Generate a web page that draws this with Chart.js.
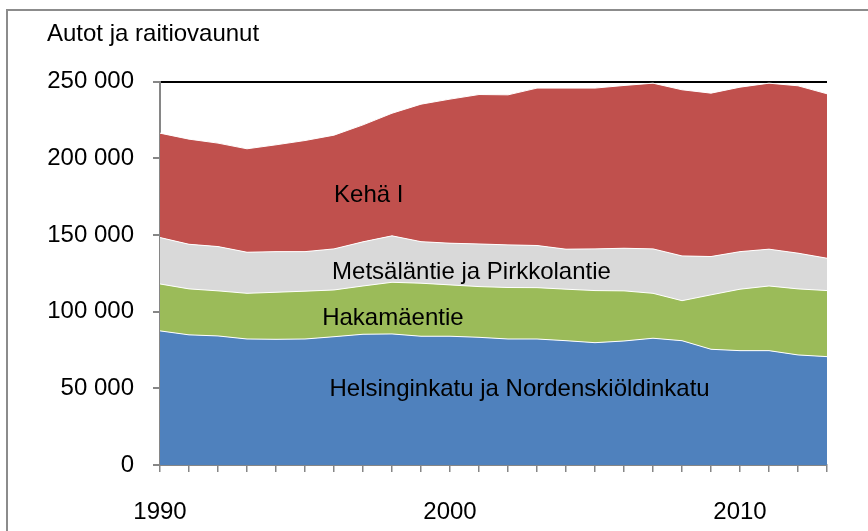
<!DOCTYPE html>
<html>
<head>
<meta charset="utf-8">
<script src="https://cdn.jsdelivr.net/npm/chart.js@4"></script>
<style>
  body { margin: 0; background: #fff; }
  #wrap { width: 868px; height: 531px; }
</style>
</head>
<body>
<div id="wrap"><canvas id="chart" width="868" height="531"></canvas></div>
<script>
const years = ["1990","1991","1992","1993","1994","1995","1996","1997","1998","1999","2000","2001",
  "2002","2003","2004","2005","2006","2007","2008","2009","2010","2011","2012","2013"];

const helsinginkatu = [87500,84900,84200,82200,82000,82200,83700,85300,85500,84000,84000,83300,
  82200,82200,81100,79800,80900,82700,81100,75500,74600,74600,71800,70700];
const hakamaentie = [30600,30000,29400,29800,30700,31200,30500,31500,33700,34600,33500,33100,
  33600,33500,33600,34000,32700,29300,26100,35500,40100,42200,43100,43100];
const metsalantie = [30300,29100,28900,26800,26500,25800,26800,28800,30300,27100,27200,27800,
  27800,27500,26100,27200,27800,29000,29200,25000,24500,24000,23300,21100];
const keha1 = [68100,68600,67500,67500,69700,72500,74200,76300,80000,89700,94000,97500,
  97900,102700,105100,104900,106200,108100,108400,106600,107300,108300,109200,107300];

const seriesNames = ["Helsinginkatu ja Nordenskiöldinkatu", "Hakamäentie", "Metsäläntie ja Pirkkolantie", "Kehä I"];
const yTicks = [0, 50000, 100000, 150000, 200000, 250000];

const FONT = "'Liberation Sans', Arial, sans-serif";

// where the series names sit inside the areas (x = index of year, y = value)
const areaLabels = [
  { text: seriesNames[3], x: 7.2, y: 175900 },
  { text: seriesNames[2], x: 10.74, y: 125600 },
  { text: seriesNames[1], x: 8.03, y: 95900 },
  { text: seriesNames[0], x: 12.4, y: 49600 }
];

function fmt(v) {
  return String(v).replace(/\B(?=(\d{3})+(?!\d))/g, " ");
}

const frame = {
  id: "frame",
  beforeDraw(chart) {
    const ctx = chart.ctx;
    ctx.save();
    ctx.strokeStyle = "#8c8c8c";
    ctx.lineWidth = 2;
    ctx.beginPath();
    ctx.moveTo(7, 531);
    ctx.lineTo(7, 10);
    ctx.lineTo(868, 10);
    ctx.stroke();
    ctx.restore();
  }
};

const inlineLabels = {
  id: "inlineLabels",
  afterDatasetsDraw(chart) {
    const ctx = chart.ctx;
    const xs = chart.scales.x, ys = chart.scales.y;
    ctx.save();
    ctx.font = "24px " + FONT;
    ctx.fillStyle = "#000";
    ctx.textAlign = "center";
    ctx.textBaseline = "middle";
    areaLabels.forEach(l => {
      ctx.fillText(l.text, xs.getPixelForValue(l.x), ys.getPixelForValue(l.y));
    });
    ctx.restore();
  }
};

const colors = ["#4f81bd", "#9bbb59", "#d9d9d9", "#c0504d"];
const values = [helsinginkatu, hakamaentie, metsalantie, keha1];

new Chart(document.getElementById("chart"), {
  type: "line",
  data: {
    labels: years,
    datasets: values.map((d, i) => ({
      label: seriesNames[i],
      data: d,
      backgroundColor: colors[i],
      borderColor: "#ffffff",
      borderWidth: 1,
      pointRadius: 0,
      tension: 0,
      fill: i === 0 ? "origin" : "-1"
    }))
  },
  options: {
    responsive: false,
    animation: false,
    layout: { padding: { left: 47, right: 41, top: 0, bottom: 0 } },
    plugins: {
      legend: { display: false },
      tooltip: { enabled: false },
      title: {
        display: true,
        text: "Autot ja raitiovaunut",
        align: "start",
        color: "#000",
        font: { family: FONT, size: 24, weight: "normal" },
        padding: { top: 20, bottom: 33 }
      }
    },
    scales: {
      x: {
        offset: false,
        grid: { drawOnChartArea: false, color: "#868686", tickLength: 7, lineWidth: 1.5 },
        border: { color: "#868686", width: 2 },
        ticks: {
          autoSkip: false,
          maxRotation: 0,
          padding: 26,
          color: "#000",
          font: { family: FONT, size: 24 },
          callback: function(v, i) {
            const y = years[i];
            return Number(y) % 10 === 0 ? y : "";
          }
        },
        afterFit(scale) { scale.height = 66; }
      },
      y: {
        stacked: true,
        min: yTicks[0],
        max: yTicks[yTicks.length - 1],
        afterBuildTicks(scale) { scale.ticks = yTicks.map(v => ({ value: v })); },
        grid: {
          color: ctx => ctx.tick && ctx.tick.value === 250000 ? "#000" : "rgba(0,0,0,0)",
          lineWidth: 2,
          tickColor: "#868686",
          tickLength: 7
        },
        border: { color: "#868686", width: 2 },
        ticks: {
          padding: 19,
          color: "#000",
          font: { family: FONT, size: 24 },
          callback: v => fmt(v)
        },
        afterFit(scale) { scale.width = 113; }
      }
    }
  },
  plugins: [frame, inlineLabels]
});
</script>
</body>
</html>
